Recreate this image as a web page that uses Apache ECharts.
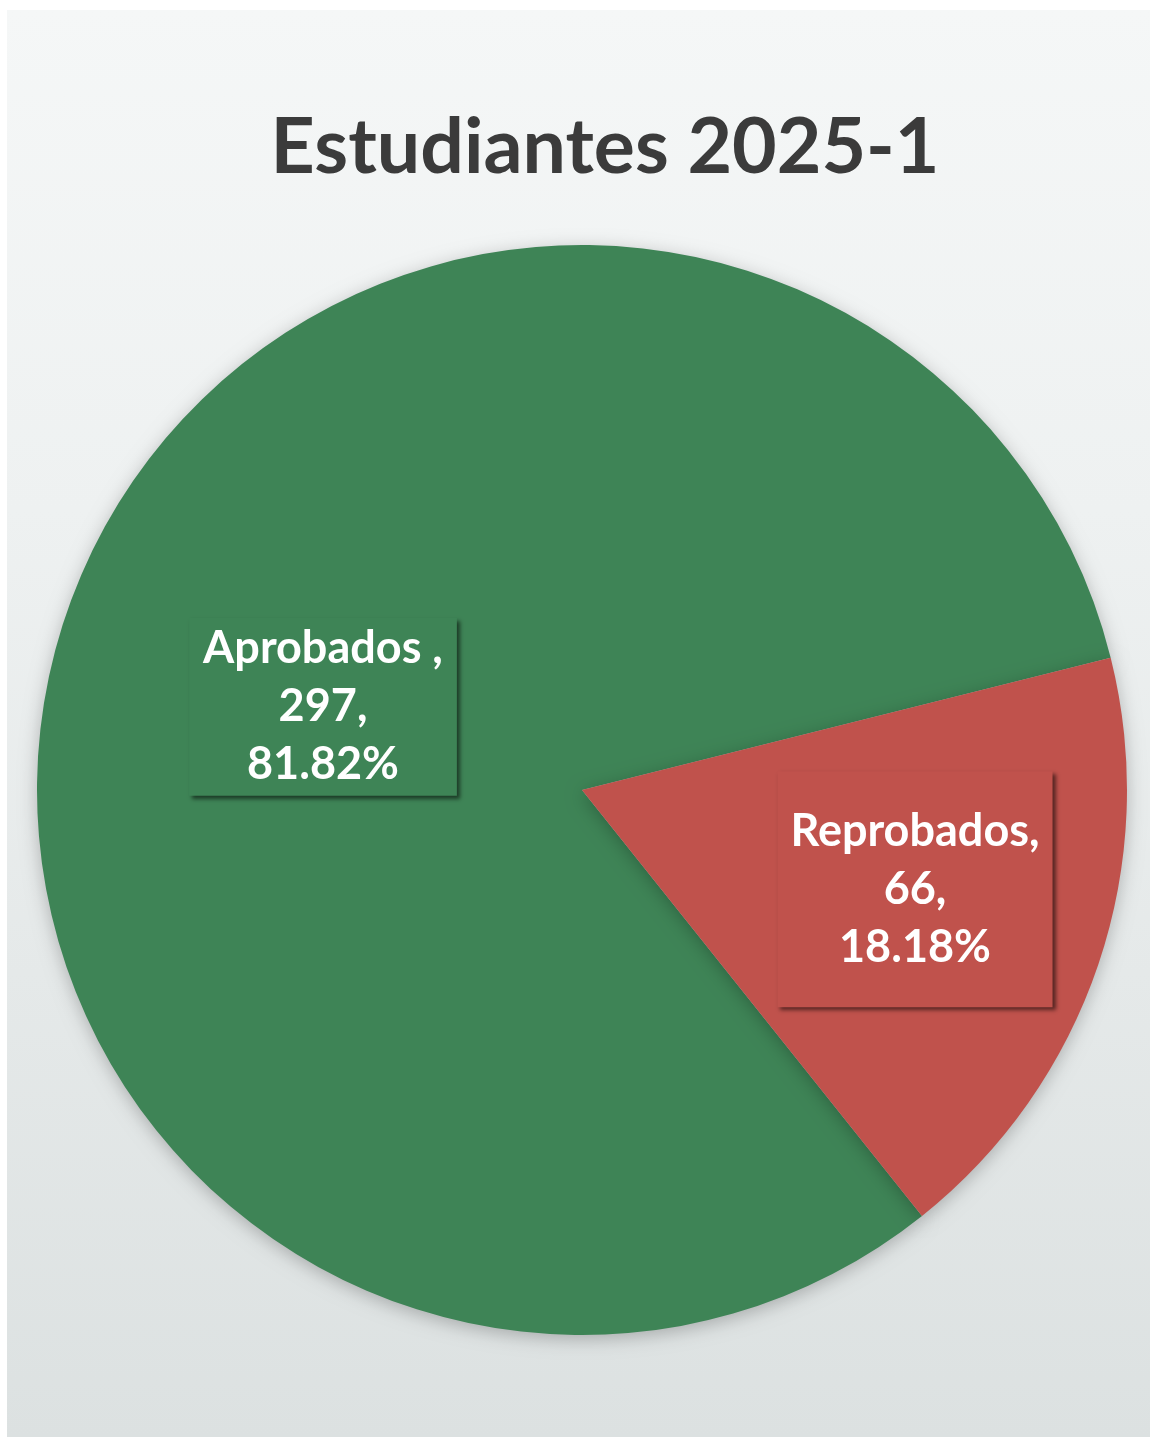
<!DOCTYPE html>
<html>
<head>
<meta charset="utf-8">
<script src="https://cdn.jsdelivr.net/npm/echarts@6/dist/echarts.min.js"></script>
<style>
  html, body { margin: 0; padding: 0; background: #ffffff; }
  #chart { width: 1150px; height: 1437px; }
</style>
</head>
<body>
<div id="chart"></div>
<script>
const titleText = 'Estudiantes 2025-1';
const categories = ['Aprobados ', 'Reprobados'];
const values = [297, 66];
const colors = ['#3e8456', '#c0524c'];
const labelPaddings = [[2, 14, 2, 14], [31, 13, 31, 13]];

const chart = echarts.init(document.getElementById('chart'));

const data = categories.map((name, i) => ({
  name: name,
  value: values[i],
  itemStyle: { color: colors[i] },
  label: { backgroundColor: colors[i], padding: labelPaddings[i] }
}));

chart.setOption({
  backgroundColor: '#ffffff',
  animation: false,
  graphic: [{
    type: 'rect',
    z: -10,
    silent: true,
    shape: { x: 7, y: 10, width: 1143, height: 1427 },
    style: {
      fill: {
        type: 'linear', x: 0, y: 0, x2: 0, y2: 1,
        colorStops: [
          { offset: 0, color: '#f5f7f7' },
          { offset: 0.35, color: '#eef1f1' },
          { offset: 1, color: '#dce1e1' }
        ]
      }
    }
  }],
  title: {
    text: titleText,
    left: 600,
    top: 105,
    textAlign: 'center',
    textStyle: {
      fontFamily: 'Lato',
      fontWeight: 'bold',
      fontSize: 77,
      color: '#3b3b3b'
    }
  },
  series: [{
    type: 'pie',
    center: [582, 790],
    radius: 545,
    startAngle: 308.6,
    clockwise: true,
    data: data,
    itemStyle: {
      shadowBlur: 18,
      shadowColor: 'rgba(0,0,0,0.25)',
      shadowOffsetY: 4
    },
    label: {
      show: true,
      position: 'inside',
      formatter: '{b},\n{c},\n{d}%',
      fontFamily: 'Lato',
      fontWeight: 'bold',
      fontSize: 45,
      lineHeight: 58,
      color: '#ffffff',
      align: 'center',
      shadowColor: 'rgba(0,0,0,0.55)',
      shadowBlur: 4,
      shadowOffsetX: 3,
      shadowOffsetY: 3
    },
    labelLine: { show: false },
    labelLayout: function (params) {
      if (params.dataIndex === 1) {
        return { dx: 72, dy: 11 };
      }
      return { dx: 2, dy: 5 };
    },
    emphasis: { disabled: true }
  }]
});
</script>
</body>
</html>
